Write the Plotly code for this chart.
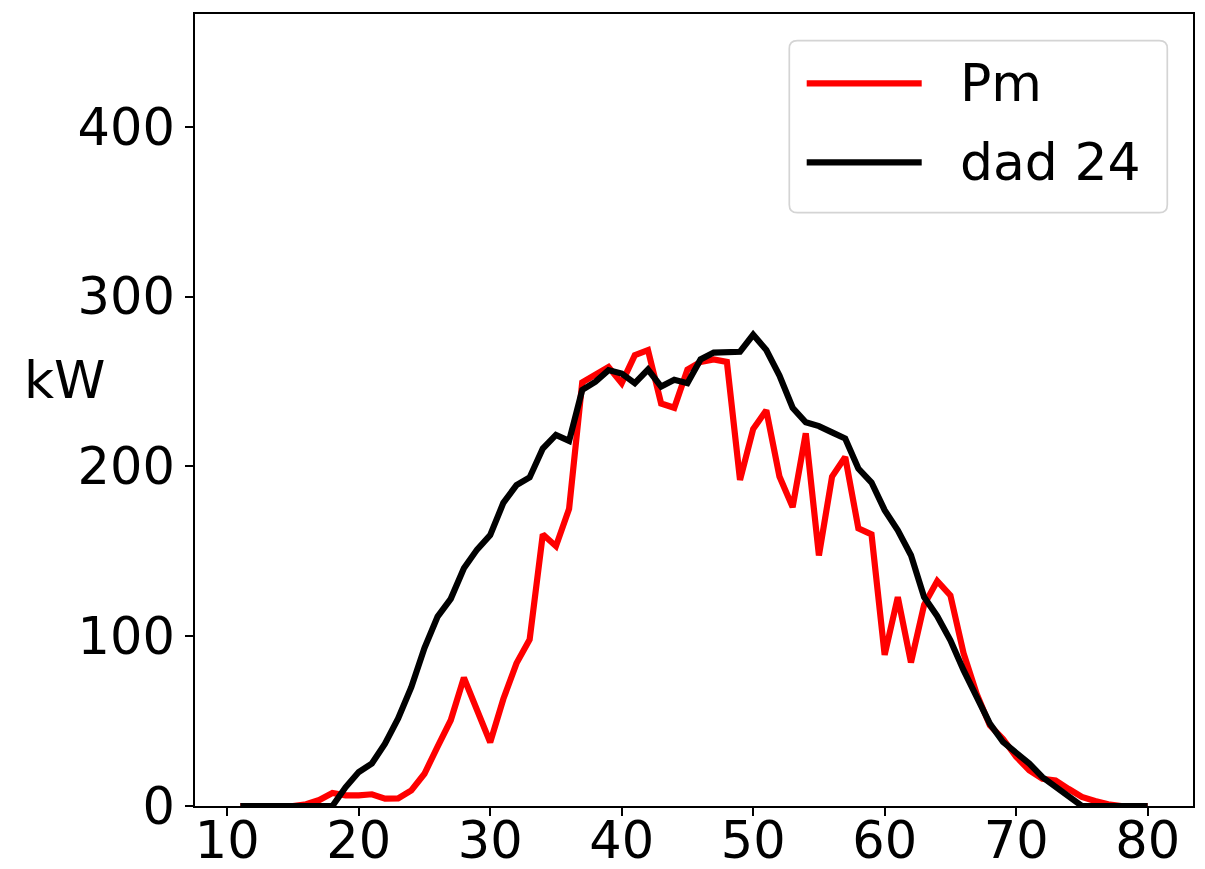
import plotly.graph_objects as go

x_vals = [11, 12, 13, 14, 15, 16, 17, 18, 19, 20,
          21, 22, 23, 24, 25, 26, 27, 28, 29, 30,
          31, 32, 33, 34, 35, 36, 37, 38, 39, 40,
          41, 42, 43, 44, 45, 46, 47, 48, 49, 50,
          51, 52, 53, 54, 55, 56, 57, 58, 59, 60,
          61, 62, 63, 64, 65, 66, 67, 68, 69, 70,
          71, 72, 73, 74, 75, 76, 77, 78, 79, 80]

pm = [0, 0, 0, 0, 0, 1, 3.5, 7.7, 6.3, 6.3,
      6.9, 4.3, 4.5, 9.2, 19, 35, 50.5, 75.5, 56, 37.5,
      63, 84, 98, 160, 153, 175, 249.5, 253.5, 258.5, 249,
      265.5, 268.5, 237, 234.5, 257, 261.5, 263, 261.5, 192, 222,
      233, 194, 176, 219.5, 147.5, 194, 205.5, 163.5, 160, 89,
      123, 84.5, 118.5, 132.5, 124, 90, 66, 47.5, 39.5, 29,
      21, 16, 15, 10, 5.3, 3, 1, 0, 0, 0]

dad24 = [0, 0, 0, 0, 0, 0, 0, 0, 11, 20,
         25, 36.7, 51.5, 70, 93, 111.5, 122, 140, 151, 159.5,
         178.5, 189, 193.5, 210.5, 218.5, 215, 245, 249.8, 256.7, 254.7,
         249, 257, 247, 251, 249, 263, 267, 267.5, 267.5, 277.5,
         268.5, 253.5, 234.5, 226, 223.7, 220, 216.4, 198.7, 190.5, 174.2,
         162.4, 147.7, 123, 111.8, 97.6, 80, 63.5, 48.5, 37.7, 31.8,
         25, 17, 11.2, 5.3, 0, 0, 0, 0, 0, 0]

series_names = ["Pm", "dad 24"]
series_colors = ["#ff0000", "#000000"]
x_ticks = [10, 20, 30, 40, 50, 60, 70, 80]
y_ticks = [0, 100, 200, 300, 400]
y_label = "kW"

FONT = "DejaVu Sans"
LW = 6.2

fig = go.Figure()
for name, ys, col in zip(series_names, [pm, dad24], series_colors):
    fig.add_trace(go.Scatter(x=x_vals, y=ys, mode="lines", name=name,
                             line=dict(color=col, width=LW), showlegend=False))

W, H = 1205, 869
ml, mr, mt, mb = 195, 12, 14, 63
pw = W - ml - mr
ph = H - mt - mb


def px(xp):
    return (xp - ml) / pw


def py(yp):
    return (H - mb - yp) / ph


axis_common = dict(showline=True, linecolor="black", linewidth=1.7, mirror=True,
                   ticks="outside", ticklen=8, tickwidth=1.7, tickcolor="black",
                   showgrid=False, zeroline=False, automargin=False,
                   tickfont=dict(family=FONT, size=51, color="black"))

fig.update_xaxes(range=[7.55, 83.45], tickvals=x_ticks, ticklabelstandoff=-19,
                 **axis_common)
fig.update_yaxes(range=[0, 466.4], tickvals=y_ticks, **axis_common)

# legend box (rounded)
x0, x1 = px(789.3), px(1167.3)
y0, y1 = py(212.7), py(40.7)
rx, ry = 8 / pw, 8 / ph
path = (f"M{x0+rx},{y1} L{x1-rx},{y1} Q{x1},{y1} {x1},{y1-ry} "
        f"L{x1},{y0+ry} Q{x1},{y0} {x1-rx},{y0} L{x0+rx},{y0} "
        f"Q{x0},{y0} {x0},{y0+ry} L{x0},{y1-ry} Q{x0},{y1} {x0+rx},{y1} Z")
fig.add_shape(type="path", path=path, xref="paper", yref="paper",
              line=dict(color="#d4d4d4", width=1.7), fillcolor="rgba(255,255,255,0.8)",
              layer="above")

leg_y = [83.3, 162.3]
for name, col, ly in zip(series_names, series_colors, leg_y):
    fig.add_shape(type="line", xref="paper", yref="paper",
                  x0=px(806.7), x1=px(921.7), y0=py(ly), y1=py(ly),
                  line=dict(color=col, width=LW), layer="above")
    fig.add_annotation(text=name, xref="paper", yref="paper",
                       x=px(959), y=py(ly), xanchor="left", yanchor="middle",
                       showarrow=False, borderpad=0,
                       font=dict(family=FONT, size=52, color="black"))

fig.add_annotation(text=y_label, xref="paper", yref="paper",
                   x=px(65), y=py(380), xanchor="center", yanchor="middle",
                   showarrow=False, borderpad=0,
                   font=dict(family=FONT, size=52, color="black"))

fig.update_layout(width=W, height=H, margin=dict(l=ml, r=mr, t=mt, b=mb),
                  paper_bgcolor="white", plot_bgcolor="white",
                  font=dict(family=FONT, color="black"))

fig.write_html("out.html")
